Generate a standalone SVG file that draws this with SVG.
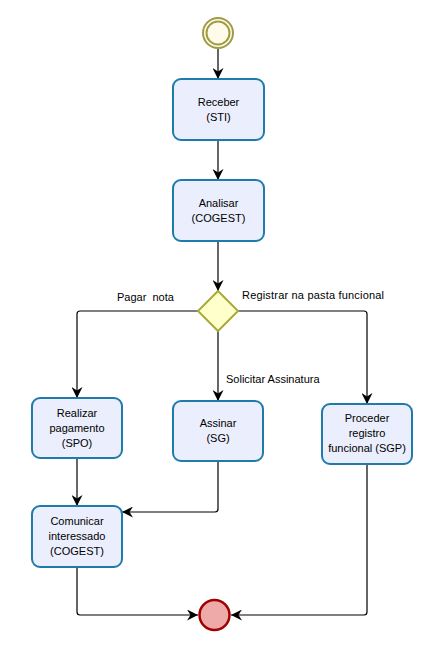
<svg xmlns="http://www.w3.org/2000/svg" width="434" height="658" viewBox="0 0 434 658">
<defs>
<marker id="arr" markerWidth="11" markerHeight="11" refX="11" refY="5.5" orient="auto" markerUnits="userSpaceOnUse">
<path d="M0,0 L11,5.5 L0,11 L3.5,5.5 Z" fill="#000"/>
</marker>
<style>
.task{fill:#EBEEFC;stroke:#1F7BAA;stroke-width:2}
.t{font-family:"Liberation Sans",Arial,sans-serif;font-size:11px;fill:#000;text-anchor:middle}
.lbl{font-family:"Liberation Sans",Arial,sans-serif;font-size:11px;fill:#000}
.c{fill:none;stroke:#000;stroke-width:1.2}
</style>
</defs>
<rect width="434" height="658" fill="#fff"/>
<g id="connectors">
<path class="c" d="M218,49 V79" marker-end="url(#arr)"/>
<path class="c" d="M218,140 V180" marker-end="url(#arr)"/>
<path class="c" d="M218,241 V291" marker-end="url(#arr)"/>
<path class="c" d="M198,311 H80 Q77,311 77,314 V398" marker-end="url(#arr)"/>
<path class="c" d="M238,311 H364 Q367,311 367,314 V404" marker-end="url(#arr)"/>
<path class="c" d="M218,331 V401" marker-end="url(#arr)"/>
<path class="c" d="M77,458 V506" marker-end="url(#arr)"/>
<path class="c" d="M218,461 V509 Q218,512 215,512 H122" marker-end="url(#arr)"/>
<path class="c" d="M77,567 V612 Q77,615 80,615 H198" marker-end="url(#arr)"/>
<path class="c" d="M367,464 V612 Q367,615 364,615 H231" marker-end="url(#arr)"/>
<text class="lbl" x="117" y="301">Pagar&#160; nota</text>
<text class="lbl" x="242" y="299" textLength="142">Registrar na pasta funcional</text>
<text class="lbl" x="226" y="383">Solicitar Assinatura</text>
</g>
<g id="start">
<circle cx="218" cy="33" r="15" fill="#FFFBEB" stroke="#A09B45" stroke-width="2"/>
<circle cx="218" cy="33" r="11.5" fill="none" stroke="#A09B45" stroke-width="2"/>
</g>
<g id="receber">
<rect class="task" x="173" y="79" width="91" height="61" rx="8"/>
<text class="t" x="218.5" y="106">Receber</text>
<text class="t" x="218.5" y="121">(STI)</text>
</g>
<g id="analisar">
<rect class="task" x="173" y="180" width="91" height="61" rx="8"/>
<text class="t" x="218.5" y="207">Analisar</text>
<text class="t" x="218.5" y="222">(COGEST)</text>
</g>
<g id="gateway">
<path d="M218,291 L238,311 L218,331 L198,311 Z" fill="#FFFFCC" stroke="#AAAA3C" stroke-width="2"/>
</g>
<g id="realizar">
<rect class="task" x="32" y="398" width="90" height="60" rx="8"/>
<text class="t" x="77" y="417">Realizar</text>
<text class="t" x="77" y="432">pagamento</text>
<text class="t" x="77" y="447">(SPO)</text>
</g>
<g id="assinar">
<rect class="task" x="173" y="401" width="90" height="60" rx="8"/>
<text class="t" x="218" y="427">Assinar</text>
<text class="t" x="218" y="442">(SG)</text>
</g>
<g id="proceder">
<rect class="task" x="322" y="404" width="90" height="60" rx="8"/>
<text class="t" x="367" y="422">Proceder</text>
<text class="t" x="367" y="437">registro</text>
<text class="t" x="367" y="452">funcional (SGP)</text>
</g>
<g id="comunicar">
<rect class="task" x="32" y="506" width="90" height="61" rx="8"/>
<text class="t" x="77" y="525">Comunicar</text>
<text class="t" x="77" y="540">interessado</text>
<text class="t" x="77" y="555">(COGEST)</text>
</g>
<g id="end">
<circle cx="214.5" cy="615" r="15" fill="#EEA9A9" stroke="#A20000" stroke-width="2.5"/>
</g>
</svg>
